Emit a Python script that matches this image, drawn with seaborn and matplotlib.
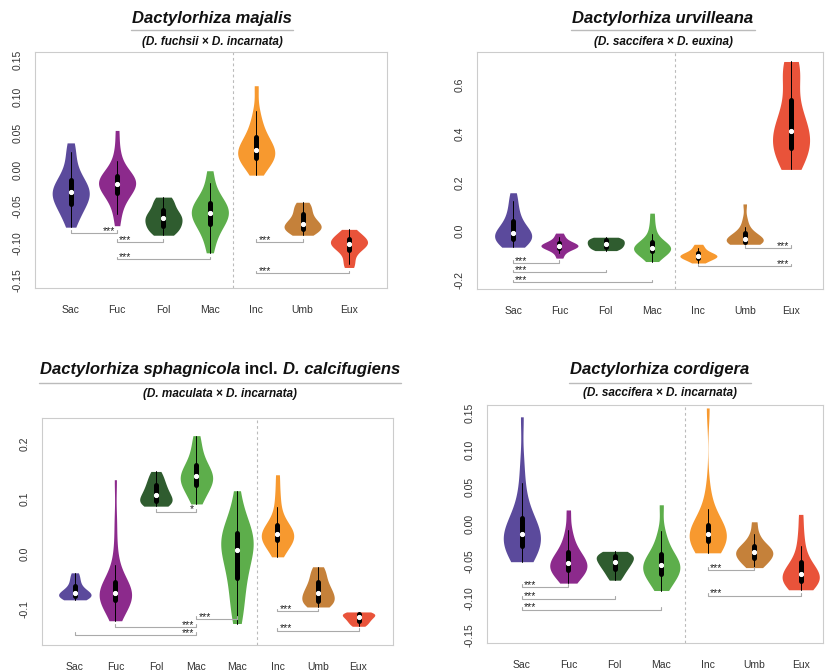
import matplotlib
matplotlib.use("Agg")
import matplotlib.pyplot as plt
from matplotlib.lines import Line2D
import seaborn as sns
import pandas as pd

# ---- colours of the parental groups ----
COL = {"Sac": "#5b4a9c", "Fuc": "#8c2a8c", "Fol": "#2f5c2f", "Mac": "#5dae4b",
       "Inc": "#f7992f", "Umb": "#c5813a", "Eux": "#e9533a"}

# ---- D. majalis ----
maj_labels = ["Sac", "Fuc", "Fol", "Mac", "Inc", "Umb", "Eux"]
maj_sac = [-0.078, -0.068, -0.060, -0.054, -0.050, -0.046, -0.042, -0.038, -0.035, -0.032, -0.030,
           -0.028, -0.025, -0.021, -0.017, -0.013, -0.008, 0.000, 0.012, 0.025, 0.037]
maj_fuc = [-0.076, -0.060, -0.048, -0.040, -0.035, -0.031, -0.027, -0.024, -0.021, -0.019, -0.019,
           -0.016, -0.014, -0.012, -0.010, -0.008, -0.004, 0.002, 0.012, 0.028, 0.054]
maj_fol = [-0.089, -0.086, -0.083, -0.080, -0.077, -0.074, -0.071, -0.068, -0.066, -0.064, -0.061,
           -0.058, -0.055, -0.050, -0.044, -0.040, -0.037]
maj_mac = [-0.113, -0.098, -0.088, -0.081, -0.075, -0.071, -0.068, -0.064, -0.061, -0.059, -0.056,
           -0.052, -0.049, -0.046, -0.043, -0.038, -0.030, -0.018, -0.001]
maj_inc = [-0.007, 0.004, 0.009, 0.012, 0.015, 0.018, 0.021, 0.024, 0.026, 0.029, 0.032, 0.036,
           0.041, 0.047, 0.055, 0.065, 0.080, 0.115]
maj_umb = [-0.089, -0.086, -0.083, -0.081, -0.079, -0.077, -0.075, -0.074, -0.071, -0.067, -0.063,
           -0.058, -0.053, -0.048, -0.044]
maj_eux = [-0.133, -0.128, -0.120, -0.112, -0.108, -0.105, -0.103, -0.101, -0.100, -0.098, -0.096,
           -0.094, -0.092, -0.089, -0.085, -0.081]
maj_sig_pairs = [(0, 1), (1, 2), (1, 3), (4, 5), (4, 6)]
maj_sig_y = [-0.086, -0.098, -0.122, -0.098, -0.141]
maj_sig_text = ["***", "***", "***", "***", "***"]
maj_sig_side = ["right", "left", "left", "left", "left"]

# ---- D. urvilleana ----
urv_labels = ["Sac", "Fuc", "Fol", "Mac", "Inc", "Umb", "Eux"]
urv_sac = [-0.066, -0.060, -0.052, -0.045, -0.038, -0.030, -0.022, -0.015, -0.010, -0.008, 0.000,
           0.008, 0.020, 0.035, 0.050, 0.070, 0.095, 0.125, 0.158]
urv_fuc = [-0.111, -0.090, -0.075, -0.068, -0.064, -0.061, -0.060, -0.058, -0.055, -0.050, -0.040,
           -0.025, -0.008]
urv_fol = [-0.080, -0.075, -0.068, -0.062, -0.056, -0.051, -0.046, -0.040, -0.034, -0.029, -0.025]
urv_mac = [-0.125, -0.108, -0.095, -0.086, -0.080, -0.076, -0.073, -0.070, -0.066, -0.061, -0.055,
           -0.048, -0.035, -0.010, 0.025, 0.074]
urv_inc = [-0.131, -0.122, -0.115, -0.110, -0.106, -0.103, -0.101, -0.098, -0.094, -0.088, -0.080,
           -0.068, -0.054]
urv_umb = [-0.054, -0.052, -0.049, -0.046, -0.043, -0.040, -0.037, -0.034, -0.031, -0.026, -0.020,
           -0.012, 0.000, 0.018, 0.050, 0.112]
urv_eux = [0.254, 0.270, 0.290, 0.310, 0.325, 0.340, 0.355, 0.370, 0.385, 0.395, 0.405, 0.420,
           0.440, 0.460, 0.480, 0.510, 0.550, 0.600, 0.640, 0.670, 0.690, 0.698]
urv_sig_pairs = [(0, 1), (0, 2), (0, 3), (5, 6), (4, 6)]
urv_sig_y = [-0.131, -0.170, -0.211, -0.070, -0.145]
urv_sig_text = ["***", "***", "***", "***", "***"]
urv_sig_side = ["left", "left", "left", "right", "right"]

# ---- D. sphagnicola incl. D. calcifugiens ----
sph_labels = ["Sac", "Fuc", "Fol", "Mac", "Mac", "Inc", "Umb", "Eux"]
sph_colors = ["Sac", "Fuc", "Fol", "Mac", "Mac", "Inc", "Umb", "Eux"]
sph_sac = [-0.083, -0.081, -0.079, -0.077, -0.075, -0.073, -0.072, -0.070, -0.067, -0.063, -0.057,
           -0.050, -0.042, -0.034]
sph_fuc = [-0.121, -0.108, -0.098, -0.091, -0.087, -0.084, -0.081, -0.079, -0.077, -0.075, -0.073,
           -0.071, -0.069, -0.066, -0.063, -0.060, -0.055, -0.048, -0.038, -0.020, 0.010, 0.060, 0.135]
sph_fol = [0.087, 0.089, 0.091, 0.094, 0.097, 0.100, 0.104, 0.108, 0.112, 0.117, 0.122, 0.128,
           0.134, 0.142, 0.150]
sph_mac1 = [0.091, 0.103, 0.113, 0.120, 0.126, 0.131, 0.135, 0.139, 0.143, 0.148, 0.154, 0.160,
            0.168, 0.180, 0.196, 0.215]
sph_mac2 = [-0.126, -0.108, -0.090, -0.074, -0.058, -0.046, -0.034, -0.022, -0.012, -0.004, 0.004,
            0.010, 0.016, 0.022, 0.028, 0.034, 0.040, 0.046, 0.054, 0.066, 0.085, 0.115]
sph_inc = [-0.005, 0.008, 0.016, 0.021, 0.025, 0.028, 0.031, 0.034, 0.037, 0.040, 0.043, 0.047,
           0.053, 0.065, 0.085, 0.110, 0.144]
sph_umb = [-0.096, -0.093, -0.090, -0.087, -0.084, -0.080, -0.076, -0.072, -0.068, -0.064, -0.059,
           -0.053, -0.046, -0.038, -0.030, -0.023]
sph_eux = [-0.131, -0.127, -0.123, -0.120, -0.117, -0.114, -0.112, -0.110, -0.108, -0.106, -0.105]
sph_sig_pairs = [(2, 3), (3, 4), (1, 3), (0, 3), (5, 6), (5, 7)]
sph_sig_y = [0.077, -0.118, -0.132, -0.147, -0.104, -0.139]
sph_sig_text = ["*", "***", "***", "***", "***", "***"]
sph_sig_side = ["right", "left", "right", "right", "left", "left"]

# ---- D. cordigera ----
cor_labels = ["Sac", "Fuc", "Fol", "Mac", "Inc", "Umb", "Eux"]
cor_sac = [-0.051, -0.048, -0.044, -0.040, -0.036, -0.032, -0.028, -0.025, -0.022, -0.019, -0.016,
           -0.013, -0.010, -0.007, -0.004, 0.000, 0.005, 0.012, 0.022, 0.035, 0.055, 0.085, 0.145]
cor_fuc = [-0.080, -0.074, -0.069, -0.065, -0.062, -0.060, -0.058, -0.056, -0.053, -0.050, -0.047,
           -0.043, -0.038, -0.032, -0.022, -0.008, 0.019]
cor_fol = [-0.076, -0.070, -0.065, -0.061, -0.058, -0.055, -0.052, -0.050, -0.047, -0.045, -0.043,
           -0.041, -0.039, -0.037]
cor_mac = [-0.090, -0.082, -0.076, -0.071, -0.067, -0.064, -0.061, -0.058, -0.056, -0.053, -0.050,
           -0.046, -0.041, -0.034, -0.024, -0.010, 0.026]
cor_inc = [-0.039, -0.034, -0.030, -0.026, -0.023, -0.021, -0.019, -0.017, -0.015, -0.013, -0.011,
           -0.008, -0.005, 0.000, 0.008, 0.020, 0.045, 0.157]
cor_umb = [-0.059, -0.055, -0.051, -0.048, -0.045, -0.042, -0.040, -0.038, -0.036, -0.034, -0.031,
           -0.028, -0.022, -0.013, 0.003]
cor_eux = [-0.089, -0.086, -0.083, -0.080, -0.077, -0.074, -0.072, -0.070, -0.068, -0.065, -0.062,
           -0.058, -0.052, -0.043, -0.030, -0.012, 0.013]
cor_sig_pairs = [(0, 1), (0, 2), (0, 3), (4, 5), (4, 6)]
cor_sig_y = [-0.085, -0.101, -0.116, -0.062, -0.097]
cor_sig_text = ["***", "***", "***", "***", "***"]
cor_sig_side = ["left", "left", "left", "left", "left"]

sns.set_style("white")
plt.rcParams["font.family"] = ["Liberation Sans", "DejaVu Sans"]

W, H = 825, 671
fig = plt.figure(figsize=(W / 100, H / 100), dpi=100)


def px_axes(x0, y0, x1, y1):
    # pixel box (top-left origin) -> figure axes
    return fig.add_axes([x0 / W, 1 - y1 / H, (x1 - x0) / W, (y1 - y0) / H])


def draw_panel(ax, labels, color_keys, groups, xlim, ylim, yticks, yfmt, sep,
               sig_pairs, sig_y, sig_text, sig_side):
    keys = [f"{i}{lab}" for i, lab in enumerate(labels)]
    df = pd.concat([pd.DataFrame({"group": k, "value": v}) for k, v in zip(keys, groups)])
    pal = {k: COL[c] for k, c in zip(keys, color_keys)}
    sns.violinplot(data=df, x="group", y="value", hue="group", order=keys, hue_order=keys,
                   palette=pal, saturation=1, cut=0, density_norm="width", width=0.8,
                   bw_adjust=0.9, linewidth=0, linecolor="black", inner="box",
                   inner_kws=dict(box_width=3.6, whis_width=0.7, marker="o"),
                   legend=False, ax=ax)
    ax.set_xlim(*xlim)
    ax.set_ylim(*ylim)
    ax.set_xticks(range(len(labels)))
    ax.set_xticklabels(labels)
    ax.set_yticks(yticks)
    ax.set_yticklabels([yfmt.format(t) for t in yticks], rotation=90, va="center")
    ax.set_xlabel("")
    ax.set_ylabel("")
    ax.tick_params(axis="both", length=5, width=0.8, color="#aaaaaa", labelcolor="#333333",
                   labelsize=7.5)
    ax.tick_params(axis="x", pad=7)
    ax.tick_params(axis="y", pad=4)
    for s in ax.spines.values():
        s.set_color("#cccccc")
        s.set_linewidth(0.8)
    ax.axvline(sep, color="#bbbbbb", lw=0.8, ls=(0, (2.5, 2.5)))

    # significance brackets
    h = 0.012 * (ylim[1] - ylim[0])
    for (a, b), y, txt, side in zip(sig_pairs, sig_y, sig_text, sig_side):
        ax.plot([a, a, b, b], [y + h, y, y, y + h], color="#aaaaaa", lw=0.8)
        if side == "left":
            ax.annotate(txt, (a, y), xytext=(1.5, -0.6), textcoords="offset points",
                        ha="left", va="baseline", fontsize=7.5, color="#222222")
        else:
            ax.annotate(txt, (b, y), xytext=(-1.5, -0.6), textcoords="offset points",
                        ha="right", va="baseline", fontsize=7.5, color="#222222")


def add_title(parts, xc, y, yline, ysub, sub):
    texts = [fig.text(0, 1 - y / H, s, fontsize=12, fontweight="bold", fontstyle=st,
                      ha="left", va="center", color="#111111") for s, st in parts]
    r = fig.canvas.get_renderer()
    widths = [t.get_window_extent(r).width for t in texts]
    x = xc - sum(widths) / 2
    x_start = x
    for t, w in zip(texts, widths):
        t.set_x(x / W)
        x += w
    fig.add_artist(Line2D([(x_start - 1) / W, (x + 1) / W], [1 - yline / H] * 2,
                          color="#bbbbbb", lw=1, transform=fig.transFigure))
    fig.text(xc / W, 1 - ysub / H, sub, fontsize=8.5, fontweight="bold", fontstyle="italic",
             ha="center", va="center", color="#111111")


ax1 = px_axes(35, 52, 387, 288)
draw_panel(ax1, maj_labels, maj_labels,
           [maj_sac, maj_fuc, maj_fol, maj_mac, maj_inc, maj_umb, maj_eux],
           (-0.77, 6.82), (-0.161, 0.161), [-0.15, -0.10, -0.05, 0.0, 0.05, 0.10, 0.15], "{:.2f}",
           3.5, maj_sig_pairs, maj_sig_y, maj_sig_text, maj_sig_side)
add_title([("Dactylorhiza majalis", "italic")], 212, 19, 29.5, 41.5,
          "(D. fuchsii \u00d7 D. incarnata)")

ax2 = px_axes(477, 52, 823, 289)
draw_panel(ax2, urv_labels, urv_labels,
           [urv_sac, urv_fuc, urv_fol, urv_mac, urv_inc, urv_umb, urv_eux],
           (-0.78, 6.69), (-0.238, 0.737), [-0.2, 0.0, 0.2, 0.4, 0.6], "{:.1f}",
           3.5, urv_sig_pairs, urv_sig_y, urv_sig_text, urv_sig_side)
add_title([("Dactylorhiza urvilleana", "italic")], 663, 19, 29.5, 42,
          "(D. saccifera \u00d7 D. euxina)")

ax3 = px_axes(42, 418, 393, 645)
draw_panel(ax3, sph_labels, sph_colors,
           [sph_sac, sph_fuc, sph_fol, sph_mac1, sph_mac2, sph_inc, sph_umb, sph_eux],
           (-0.81, 7.85), (-0.165, 0.247), [-0.1, 0.0, 0.1, 0.2], "{:.1f}",
           4.5, sph_sig_pairs, sph_sig_y, sph_sig_text, sph_sig_side)
add_title([("Dactylorhiza sphagnicola", "italic"), (" incl. ", "normal"),
           ("D. calcifugiens", "italic")], 220, 370, 383, 394,
          "(D. maculata \u00d7 D. incarnata)")

ax4 = px_axes(487, 405, 823, 643)
draw_panel(ax4, cor_labels, cor_labels,
           [cor_sac, cor_fuc, cor_fol, cor_mac, cor_inc, cor_umb, cor_eux],
           (-0.75, 6.48), (-0.161, 0.161), [-0.15, -0.10, -0.05, 0.0, 0.05, 0.10, 0.15], "{:.2f}",
           3.5, cor_sig_pairs, cor_sig_y, cor_sig_text, cor_sig_side)
add_title([("Dactylorhiza cordigera", "italic")], 660, 370, 383, 393,
          "(D. saccifera \u00d7 D. incarnata)")

fig.savefig("out.png", dpi=100, facecolor="white")
